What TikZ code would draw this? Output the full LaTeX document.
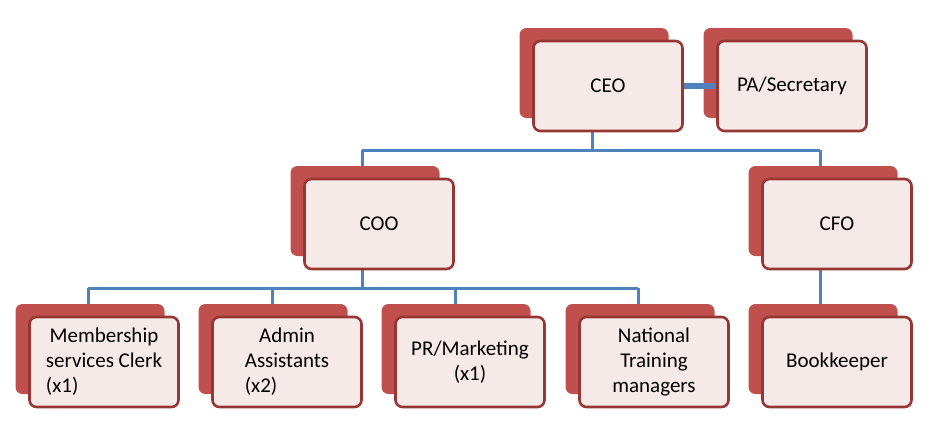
\documentclass[tikz,border=0pt]{standalone}
\usepackage{fontspec}
\usepackage{calc}
\setmainfont{Carlito}
\usetikzlibrary{shadows}
\definecolor{shred}{RGB}{192,80,77}
\definecolor{boxline}{RGB}{150,55,52}
\definecolor{boxfill}{RGB}{246,234,233}
\definecolor{linkblue}{RGB}{79,129,189}
\tikzset{
  box/.style={draw=boxline, line width=2.6pt, fill=boxfill, rounded corners=7pt,
    minimum width=149pt, minimum height=90pt, align=center, font=\fontsize{21}{25}\selectfont,
    general shadow={fill=shred, shadow xshift=-14pt, shadow yshift=13pt, rounded corners=3pt}},
  link/.style={draw=linkblue, line width=3pt}
}
\newcommand{\lastline}[2]{\makebox[\widthof{#1}][l]{#2}}
\begin{document}
\begin{tikzpicture}[x=1pt,y=-1pt]
\useasboundingbox[fill=white] (0,0) rectangle (939,434);

% connectors first, boxes on top
\coordinate (top) at (592,150);
\coordinate (mid) at (362,288);
\draw[link] (592,132) -- (top);
\draw[link] (362,150) -- (820,150);
\draw[link] (362,150) -- (362,180);
\draw[link] (820,150) -- (820,180);
\draw[link] (362,270) -- (mid);
\draw[link] (88,288) -- (638,288);
\foreach \x in {88,272,455,638}
  \draw[link] (\x,288) -- (\x,318);
\draw[link] (820,270) -- (820,318);

\node[box] (ceo) at (608,86) {CEO};
\node[box] (pa) at (792,86) {PA/Secretary};
\node[box] (coo) at (379,224) {COO};
\node[box] (cfo) at (837,224) {CFO};
\node[box] (clerk) at (104,362) {Membership\\services Clerk\\\lastline{services Clerk}{(x1)}};
\node[box] (admin) at (287,362) {Admin\\Assistants\\\lastline{Assistants}{(x2)}};
\node[box] (pr) at (470,362) {PR/Marketing\\(x1)};
\node[box] (ntm) at (654,362) {National\\Training\\managers};
\node[box] (book) at (837,362) {Bookkeeper};

\draw[link, line width=6pt] (ceo.east) -- (pa.west);
\end{tikzpicture}
\end{document}
